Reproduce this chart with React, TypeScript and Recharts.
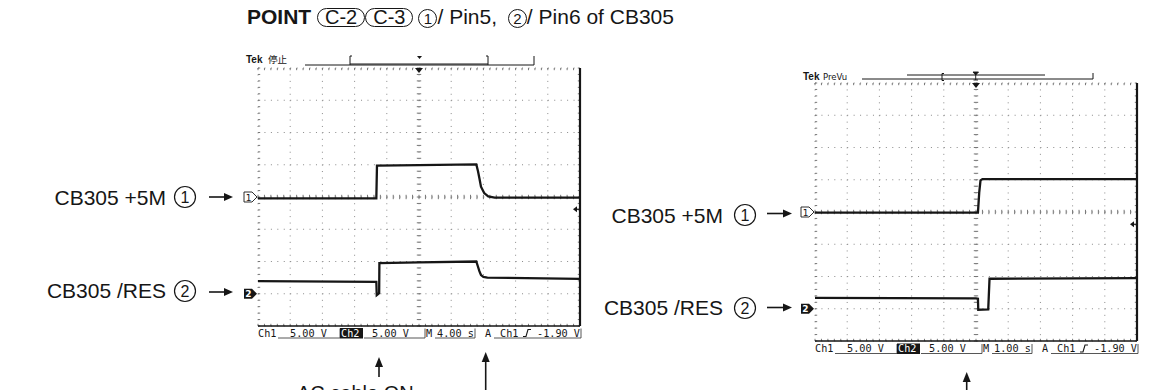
import React from 'react';
import { LineChart, Line, XAxis, YAxis, CartesianGrid, ReferenceLine, ReferenceDot } from 'recharts';

// ---------------- data ----------------
// Left screen: M 4.00 s/div, Ch1 5.00 V/div, Ch2 5.00 V/div
const leftCh1Time = [-20, -5.3, -5.22, 0, 7.12, 7.33, 7.52, 7.7, 8.1, 8.6, 9.4, 20];
const leftCh1Volts = [-0.2, -0.2, 4.85, 4.95, 5.05, 4.0, 2.8, 1.6, 0.6, 0.1, -0.1, -0.1];
const leftCh2Time = [-20, -5.3, -5.25, -4.95, -4.92, 0, 7.12, 7.3, 7.5, 7.7, 8.0, 8.5, 20];
const leftCh2Volts = [1.95, 1.85, -0.2, 0.1, 4.75, 4.85, 5.0, 4.3, 3.5, 2.9, 2.6, 2.5, 2.3];
// Right screen: M 1.00 s/div
const rightCh1Time = [-5, 0.06, 0.1, 0.14, 0.2, 5];
const rightCh1Volts = [-0.1, -0.1, 3.0, 4.9, 5.1, 5.1];
const rightCh2Time = [-5, 0, 0.06, 0.07, 0.38, 0.42, 5];
const rightCh2Volts = [1.7, 1.6, 1.55, -0.15, -0.1, 4.65, 4.75];

const voltsPerDiv = 5;
const ch1GroundDiv = 4;
const ch2GroundDiv = 1;
const triggerLevel = -1.9;
const leftTimePerDiv = 4;
const rightTimePerDiv = 1;
const leftTimeLabel = '4.00 s';
const rightTimeLabel = '1.00 s';
const voltLabel = '5.00 V';
const trigLabel = '-1.90 V';
const label1 = 'CB305 +5M';
const label2 = 'CB305 /RES';

type Pt = { t: number; y: number };
const toPoints = (ts: number[], vs: number[], ground: number): Pt[] =>
  ts.map((t, i) => ({ t, y: ground + vs[i] / voltsPerDiv }));

const PW = 322;
const PH = 258;
const MG = { top: 12, right: 12, bottom: 12, left: 22 };
const INK = '#161616';

function Scope({ x, y, tDiv, ch1, ch2 }: { x: number; y: number; tDiv: number; ch1: Pt[]; ch2: Pt[] }) {
  const half = tDiv * 5;
  const majorX = Array.from({ length: 11 }, (_, i) => -half + i * tDiv);
  const majorY = Array.from({ length: 9 }, (_, i) => i);
  const minorX = Array.from({ length: 51 }, (_, i) => -half + (i * tDiv) / 5);
  const minorY = Array.from({ length: 41 }, (_, i) => i * 0.2);
  const tx = (tDiv * 2.2) / (PW / 10);
  const ty = 2.2 / (PH / 8);
  const seg = (a: number, b: number, c: number, d: number, k: string) => (
    <ReferenceLine key={k} segment={[{ x: a, y: b }, { x: c, y: d }]} stroke="#777" strokeWidth={1} />
  );
  const ticks: any[] = [];
  minorX.forEach((t, i) => {
    ticks.push(seg(t, 8, t, 8 - ty, 'tt' + i));
    ticks.push(seg(t, 0, t, ty, 'tb' + i));
    ticks.push(seg(t, 4 - ty, t, 4 + ty, 'tc' + i));
  });
  minorY.forEach((v, i) => {
    ticks.push(seg(-half, v, -half + tx, v, 'tl' + i));
    ticks.push(seg(half - tx, v, half, v, 'tr' + i));
    ticks.push(seg(-tx, v, tx, v, 'tm' + i));
  });
  const trigY = ch1GroundDiv + triggerLevel / voltsPerDiv;
  return (
    <div style={{ position: 'absolute', left: x - MG.left, top: y - MG.top }}>
      <LineChart width={PW + MG.left + MG.right} height={PH + MG.top + MG.bottom} margin={MG}>
        <XAxis type="number" dataKey="t" domain={[-half, half]} ticks={majorX} hide allowDataOverflow />
        <YAxis type="number" domain={[0, 8]} ticks={majorY} hide allowDataOverflow />
        <CartesianGrid stroke="#8a8a8a" strokeDasharray="1 5.44" />
        {ticks}
        <ReferenceLine y={0} stroke={INK} strokeWidth={1.4} />
        <ReferenceLine x={half} stroke={INK} strokeWidth={2.2} />
        <Line data={ch1} dataKey="y" type="linear" stroke={INK} strokeWidth={2.3} dot={false} isAnimationActive={false} />
        <Line data={ch2} dataKey="y" type="linear" stroke={INK} strokeWidth={2.3} dot={false} isAnimationActive={false} />
        <ReferenceDot
          x={0}
          y={8}
          ifOverflow="visible"
          shape={(p: any) => <path d={`M${p.cx - 4},${p.cy} L${p.cx + 4},${p.cy} L${p.cx},${p.cy + 5} Z`} fill={INK} />}
        />
        <ReferenceDot
          x={half}
          y={trigY}
          ifOverflow="visible"
          shape={(p: any) => (
            <g>
              <path d={`M${p.cx - 7},${p.cy} L${p.cx - 3},${p.cy - 3} L${p.cx - 3},${p.cy + 3} Z`} fill={INK} />
              <line x1={p.cx - 4} x2={p.cx} y1={p.cy} y2={p.cy} stroke={INK} strokeWidth={1.2} />
            </g>
          )}
        />
        <ReferenceDot
          x={-half}
          y={ch1GroundDiv}
          ifOverflow="visible"
          shape={(p: any) => (
            <g>
              <path
                d={`M${p.cx - 14},${p.cy - 5} L${p.cx - 6},${p.cy - 5} L${p.cx - 1},${p.cy} L${p.cx - 6},${p.cy + 5} L${p.cx - 14},${p.cy + 5} Z`}
                fill="#fff"
                stroke={INK}
                strokeWidth={0.9}
              />
              <text x={p.cx - 9.5} y={p.cy + 3.5} fontSize={9} fontFamily="DejaVu Sans" textAnchor="middle" fill={INK}>1</text>
            </g>
          )}
        />
        <ReferenceDot
          x={-half}
          y={ch2GroundDiv}
          ifOverflow="visible"
          shape={(p: any) => (
            <g>
              <path
                d={`M${p.cx - 14},${p.cy - 5} L${p.cx - 6},${p.cy - 5} L${p.cx - 1},${p.cy} L${p.cx - 6},${p.cy + 5} L${p.cx - 14},${p.cy + 5} Z`}
                fill={INK}
              />
              <text x={p.cx - 9.5} y={p.cy + 3.5} fontSize={9} fontWeight="bold" fontFamily="DejaVu Sans" textAnchor="middle" fill="#fff">2</text>
            </g>
          )}
        />
      </LineChart>
    </div>
  );
}

const mono = { fontFamily: '"DejaVu Sans Mono", monospace', fontSize: 10.2, fill: INK } as const;

function StatusBar({ x0, yb, time }: { x0: number; yb: number; time: string }) {
  const ul = (a: number, b: number) => (
    <g>
      <line x1={x0 + a} x2={x0 + b} y1={yb + 1.5} y2={yb + 1.5} stroke="#444" strokeWidth={0.9} />
      <line x1={x0 + b} x2={x0 + b} y1={yb + 1.5} y2={yb - 8} stroke="#444" strokeWidth={0.9} />
    </g>
  );
  return (
    <g>
      <text x={x0} y={yb} {...mono}>Ch1</text>
      <text x={x0 + 32} y={yb} {...mono}>{voltLabel}</text>
      {ul(20, 82)}
      <rect x={x0 + 82} y={yb - 8.5} width={23} height={10.5} fill={INK} />
      <text x={x0 + 83} y={yb} {...mono} fill="#fff">Ch2</text>
      <text x={x0 + 114} y={yb} {...mono}>{voltLabel}</text>
      {ul(106, 167)}
      <text x={x0 + 168} y={yb} {...mono}>M</text>
      <text x={x0 + 179} y={yb} {...mono}>{time}</text>
      {ul(177, 217)}
      <text x={x0 + 227} y={yb} {...mono}>A</text>
      <text x={x0 + 242} y={yb} {...mono}>Ch1</text>
      <path d={`M${x0 + 265},${yb} L${x0 + 268},${yb} L${x0 + 270},${yb - 7} L${x0 + 273},${yb - 7}`} fill="none" stroke={INK} strokeWidth={1.1} />
      <text x={x0 + 279} y={yb} {...mono}>{trigLabel}</text>
      {ul(236, 323)}
    </g>
  );
}

function CircNum({ cx, cy, r, n, fs }: { cx: number; cy: number; r: number; n: string; fs: number }) {
  return (
    <g>
      <circle cx={cx} cy={cy} r={r} fill="none" stroke={INK} strokeWidth={1.2} />
      <text x={cx} y={cy + fs * 0.36} textAnchor="middle" fontSize={fs} fontFamily='"Liberation Sans", Arial, sans-serif' fill={INK}>{n}</text>
    </g>
  );
}

function ArrowRight({ x1, x2, y }: { x1: number; x2: number; y: number }) {
  return (
    <g>
      <line x1={x1} x2={x2 - 6} y1={y} y2={y} stroke={INK} strokeWidth={1.6} />
      <path d={`M${x2 - 9},${y - 4} L${x2},${y} L${x2 - 9},${y + 4} Z`} fill={INK} />
    </g>
  );
}

function ArrowUp({ x, y1, y2 }: { x: number; y1: number; y2: number }) {
  return (
    <g>
      <line x1={x} x2={x} y1={y1 + 6} y2={y2} stroke={INK} strokeWidth={1.6} />
      <path d={`M${x - 4},${y1 + 10} L${x},${y1} L${x + 4},${y1 + 10} Z`} fill={INK} />
    </g>
  );
}

const sans = '"Liberation Sans", Arial, Helvetica, sans-serif';

export default function App() {
  const l1 = toPoints(leftCh1Time, leftCh1Volts, ch1GroundDiv);
  const l2 = toPoints(leftCh2Time, leftCh2Volts, ch2GroundDiv);
  const r1 = toPoints(rightCh1Time, rightCh1Volts, ch1GroundDiv);
  const r2 = toPoints(rightCh2Time, rightCh2Volts, ch2GroundDiv);

  const stadium: React.CSSProperties = {
    display: 'inline-block',
    border: `1px solid ${INK}`,
    borderRadius: 10,
    padding: '0 7px',
    lineHeight: '17px',
    fontSize: 20,
  };
  const circ: React.CSSProperties = {
    display: 'inline-block',
    width: 17,
    height: 17,
    border: `1px solid ${INK}`,
    borderRadius: '50%',
    textAlign: 'center',
    fontSize: 15,
    lineHeight: '17px',
    marginLeft: 5,
  };

  return (
    <div style={{ position: 'absolute', left: 0, top: 0, width: 1159, height: 390, background: '#fff', overflow: 'hidden', fontFamily: sans, color: INK }}>
      <div style={{ position: 'absolute', left: 247, top: 5, fontSize: 21, lineHeight: '24px', whiteSpace: 'nowrap' }}>
        <b>POINT</b> <span style={stadium}>C-2</span><span style={stadium}>C-3</span>
        <span style={circ}>1</span>/ Pin5, <span style={circ}>2</span>/ Pin6 of CB305
      </div>

      <Scope x={258} y={68} tDiv={leftTimePerDiv} ch1={l1} ch2={l2} />
      <Scope x={815} y={83} tDiv={rightTimePerDiv} ch1={r1} ch2={r2} />

      <svg width={1159} height={390} style={{ position: 'absolute', left: 0, top: 0, pointerEvents: 'none' }}>
        {/* left screen header */}
        <text x={246} y={63} fontFamily={sans} fontWeight="bold" fontSize={10} fill={INK}>Tek</text>
        <text x={268} y={63} fontFamily='"Noto Sans CJK JP", sans-serif' fontSize={9.5} fill={INK}>停止</text>
        <line x1={305} x2={534} y1={65} y2={65} stroke={INK} strokeWidth={1} />
        <line x1={534} x2={534} y1={56} y2={65} stroke={INK} strokeWidth={1} />
        <path d="M352,56 L350,56 L350,65 M486,56 L488,56 L488,65" fill="none" stroke={INK} strokeWidth={1} />
        <line x1={350} x2={488} y1={64} y2={64} stroke={INK} strokeWidth={1} />
        <path d="M417,56 L422,56 L419.5,59 Z" fill={INK} />

        {/* right screen header */}
        <text x={803} y={80} fontFamily={sans} fontWeight="bold" fontSize={10} fill={INK}>Tek</text>
        <text x={823} y={80} fontFamily='"DejaVu Sans", sans-serif' fontSize={8.5} fill={INK}>PreVu</text>
        <line x1={862} x2={1093} y1={79} y2={79} stroke={INK} strokeWidth={1} />
        <line x1={1093} x2={1093} y1={73} y2={79} stroke={INK} strokeWidth={1} />
        <line x1={907} x2={1045} y1={75} y2={75} stroke={INK} strokeWidth={1} />
        <path d="M944,73.5 L942,73.5 L942,80.5 L944,80.5" fill="none" stroke={INK} strokeWidth={1} />
        <path d="M973,72 L978.5,72 L975.7,75 Z M975.7,74 L975.7,80 M973.5,80 L978,80" fill={INK} stroke={INK} strokeWidth={0.9} />

        <StatusBar x0={258} yb={336.5} time={leftTimeLabel} />
        <StatusBar x0={815} yb={352} time={rightTimeLabel} />

        {/* left labels */}
        <text x={166} y={204.5} textAnchor="end" fontFamily={sans} fontSize={21} fill={INK}>{label1}</text>
        <CircNum cx={185} cy={197} r={10.5} n="1" fs={16} />
        <ArrowRight x1={209} x2={233} y={197} />
        <text x={166} y={298} textAnchor="end" fontFamily={sans} fontSize={21} fill={INK}>{label2}</text>
        <CircNum cx={185} cy={291} r={10.5} n="2" fs={16} />
        <ArrowRight x1={209} x2={233} y={292} />

        {/* right labels */}
        <text x={723} y={222.5} textAnchor="end" fontFamily={sans} fontSize={21} fill={INK}>{label1}</text>
        <CircNum cx={745} cy={215} r={10.5} n="1" fs={16} />
        <ArrowRight x1={767} x2={792} y={213.5} />
        <text x={723} y={315} textAnchor="end" fontFamily={sans} fontSize={21} fill={INK}>{label2}</text>
        <CircNum cx={745} cy={308} r={10.5} n="2" fs={16} />
        <ArrowRight x1={767} x2={792} y={307.5} />

        {/* bottom annotations */}
        <ArrowUp x={379} y1={357} y2={377} />
        <ArrowUp x={485.7} y1={352} y2={392} />
        <ArrowUp x={966.7} y1={372} y2={392} />
        <text x={297} y={400} fontFamily={sans} fontSize={20} fill={INK}>AC cable ON</text>
      </svg>
    </div>
  );
}
